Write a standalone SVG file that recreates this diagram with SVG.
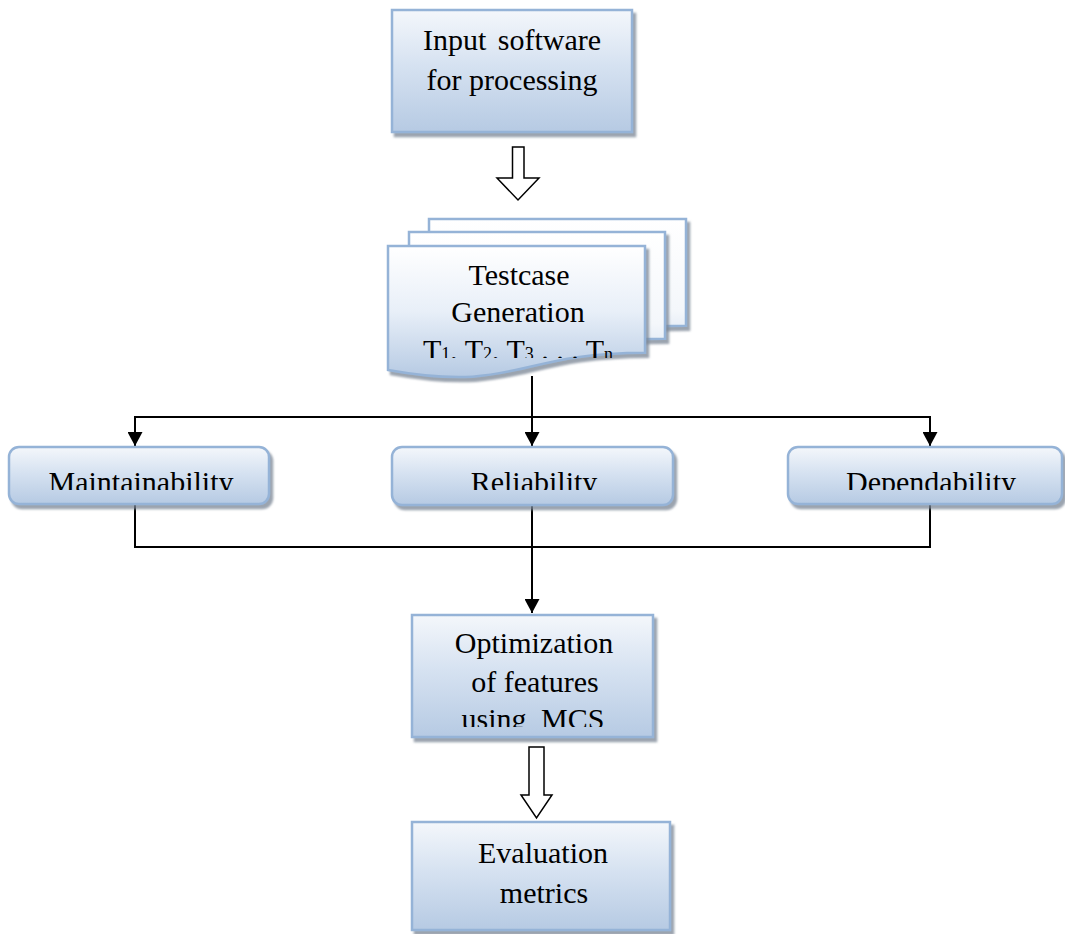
<svg xmlns="http://www.w3.org/2000/svg" width="1065" height="934" viewBox="0 0 1065 934">
<style>
.box{stroke:#95b3d7;stroke-width:2.5;fill:url(#gBox);filter:url(#sh)}
.doc{stroke:#95b3d7;stroke-width:2.5;filter:url(#sh)}
.t{font-family:'Liberation Serif','Times New Roman',serif;font-size:30px;fill:#000;text-anchor:middle}
.ln{stroke:#000;stroke-width:2;fill:none}
.hollow{fill:#fff;stroke:#000;stroke-width:1.5}
</style>
<defs>
<linearGradient id="gBox" x1="0" y1="0" x2="0" y2="1">
<stop offset="0" stop-color="#f4f7fb"/>
<stop offset="0.45" stop-color="#d6e2f1"/>
<stop offset="1" stop-color="#b6cae3"/>
</linearGradient>
<linearGradient id="gDoc" x1="0" y1="0" x2="0" y2="1">
<stop offset="0" stop-color="#ffffff"/>
<stop offset="0.5" stop-color="#e8eff8"/>
<stop offset="1" stop-color="#b6cae3"/>
</linearGradient>
<linearGradient id="gBack" x1="0" y1="0" x2="0" y2="1">
<stop offset="0" stop-color="#ffffff"/>
<stop offset="0.7" stop-color="#f4f7fb"/>
<stop offset="1" stop-color="#d6e2f1"/>
</linearGradient>
<filter id="sh" x="-10%" y="-10%" width="120%" height="130%">
<feDropShadow dx="3" dy="4" stdDeviation="1.3" flood-color="#7a8594" flood-opacity="0.75"/>
</filter>
<marker id="ah" viewBox="0 0 14 15" markerWidth="14" markerHeight="15" refX="14" refY="7.5" orient="auto" markerUnits="userSpaceOnUse">
<path d="M0,0 L14,7.5 L0,15 Z" fill="#000"/>
</marker>
<clipPath id="cT"><rect x="380" y="240" width="270" height="118"/></clipPath>
<clipPath id="cM"><rect x="0" y="440" width="1065" height="50"/></clipPath>
<clipPath id="cO"><rect x="400" y="610" width="270" height="117"/></clipPath>
</defs>

<g id="connectors">
<line class="ln" x1="532" y1="376" x2="532" y2="446" marker-end="url(#ah)"/>
<line class="ln" x1="134" y1="417" x2="931" y2="417"/>
<line class="ln" x1="135" y1="417" x2="135" y2="446" marker-end="url(#ah)"/>
<line class="ln" x1="930" y1="417" x2="930" y2="446" marker-end="url(#ah)"/>
<polyline class="ln" points="135,505 135,547 930,547 930,505"/>
<line class="ln" x1="532" y1="506" x2="532" y2="613" marker-end="url(#ah)"/>
<path class="hollow" d="M512.5,147 H524 V178 H539 L518,200 L497,178 H512.5 Z"/>
<path class="hollow" d="M529,747 H544 V795 H552 L536.5,818 L521,795 H529 Z"/>
</g>

<g id="input">
<rect class="box" x="392" y="10" width="240" height="122"/>
<text class="t" font-family="Liberation Serif, serif" x="512" y="50" word-spacing="4">Input software</text>
<text class="t" font-family="Liberation Serif, serif" x="512" y="90">for processing</text>
</g>

<g id="testcase">
<path class="doc" fill="url(#gBack)" d="M429,219 H686 V325.7 C557.5,325.7 557.5,366 429,343 Z"/>
<path class="doc" fill="url(#gBack)" d="M409,232 H665 V338.7 C537,338.7 537,379 409,356 Z"/>
<path class="doc" fill="url(#gDoc)" d="M388,246 H645 V352.7 C516.5,352.7 516.5,393 388,370 Z"/>
<text class="t" font-family="Liberation Serif, serif" x="519" y="285">Testcase</text>
<text class="t" font-family="Liberation Serif, serif" x="518" y="322">Generation</text>
<text class="t" font-family="Liberation Serif, serif" x="518" y="360" clip-path="url(#cT)">T<tspan font-size="18">1</tspan>, T<tspan font-size="18">2</tspan>, T<tspan font-size="18">3</tspan> . . . T<tspan font-size="18">n</tspan></text>
</g>

<g id="maintainability">
<rect class="box" x="9" y="447" width="260" height="57" rx="10"/>
<text class="t" font-family="Liberation Serif, serif" x="141" y="492" clip-path="url(#cM)">Maintainability</text>
</g>

<g id="reliability">
<rect class="box" x="392" y="447" width="281" height="58" rx="10"/>
<text class="t" font-family="Liberation Serif, serif" x="534" y="492" clip-path="url(#cM)">Reliability</text>
</g>

<g id="dependability">
<rect class="box" x="788" y="447" width="274" height="57" rx="10"/>
<text class="t" font-family="Liberation Serif, serif" x="931" y="492" clip-path="url(#cM)">Dependability</text>
</g>

<g id="optimization">
<rect class="box" x="412" y="615" width="241" height="122"/>
<text class="t" font-family="Liberation Serif, serif" x="534" y="653">Optimization</text>
<text class="t" font-family="Liberation Serif, serif" x="535" y="692">of features</text>
<text class="t" font-family="Liberation Serif, serif" x="533" y="729" word-spacing="7" clip-path="url(#cO)">using MCS</text>
</g>

<g id="evaluation">
<rect class="box" x="412" y="822" width="258" height="108"/>
<text class="t" font-family="Liberation Serif, serif" x="543" y="863">Evaluation</text>
<text class="t" font-family="Liberation Serif, serif" x="544" y="903">metrics</text>
</g>
</svg>
